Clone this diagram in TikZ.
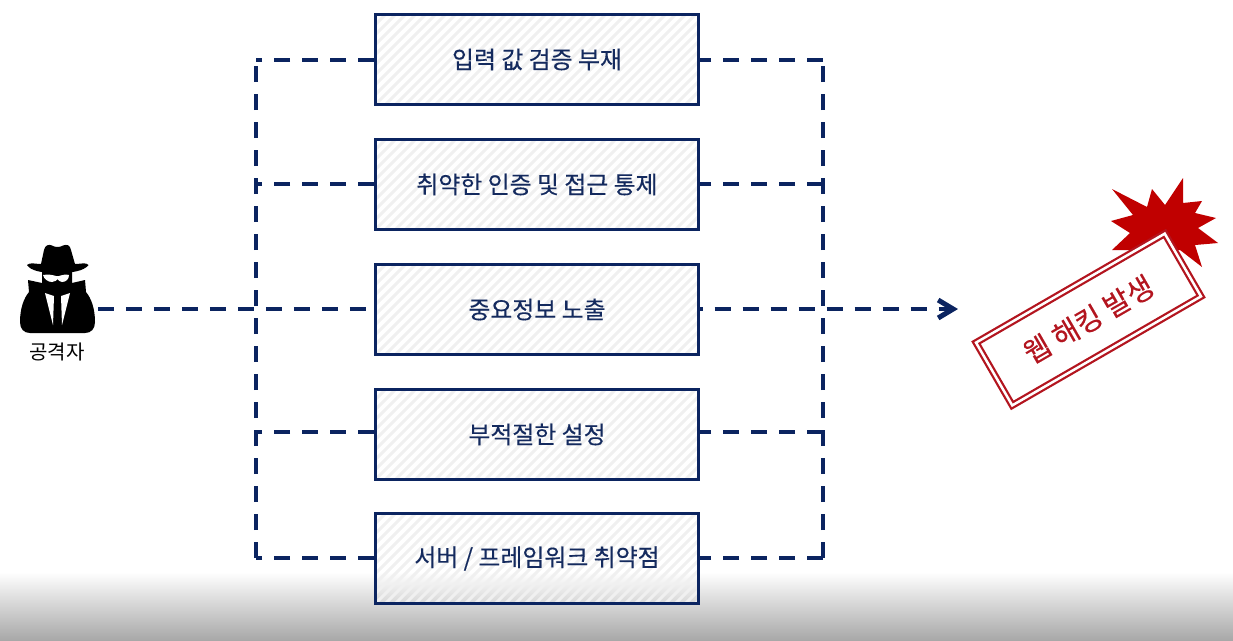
\documentclass[tikz,border=0pt]{standalone}
\usepackage{fontspec}
\setmainfont{Noto Sans CJK KR}
\newfontfamily\krmedium[FakeBold=0.3]{Noto Sans CJK KR}
\usetikzlibrary{arrows.meta,calc}
\definecolor{navyline}{HTML}{0B2460}
\definecolor{navytext}{HTML}{142A5E}
\definecolor{hatchgray}{HTML}{F0F0F0}
\definecolor{burstred}{HTML}{C00000}
\definecolor{stampred}{HTML}{B3151F}

\begin{document}
\begin{tikzpicture}[x=0.02cm,y=-0.02cm,
  link/.style={draw=navyline,line width=0.085cm,dash pattern=on 0.326cm off 0.234cm},
  vuln node/.style={draw=navyline,line width=0.052cm,minimum width=6.47cm,minimum height=1.81cm,
    inner sep=0pt,text=navytext,font=\krmedium\fontsize{13.6}{16}\selectfont,
    path picture={
      \foreach \i in {-100,-90,...,330}
        \draw[hatchgray,line width=0.06cm]
          ($(path picture bounding box.south west)+(\i,0)$) -- ++(100,-100);
    }},
  stamp node/.style={draw=stampred,fill=white,double=white,double distance=0.05cm,line width=0.045cm,
    minimum width=4.36cm,minimum height=1.45cm,rotate=30,text=stampred,
    font=\krmedium\fontsize{16.3}{18}\selectfont}]

\useasboundingbox (0,0) rectangle (1233,640);
\shade[top color=white,bottom color=black!34,draw=none] (0,572) rectangle (1233,640);

% corners of the two buses
\coordinate (L1) at (256,60);
\coordinate (L2) at (256,184);
\coordinate (L4) at (256,432);
\coordinate (L5) at (256,558);
\coordinate (R1) at (823,60);
\coordinate (R2) at (823,184);
\coordinate (R4) at (823,432);
\coordinate (R5) at (823,558);
\coordinate (A1) at (98,309);
\coordinate (T1) at (958,309);

\node[vuln node](B1) at (537,59.5) {입력 값 검증 부재};
\node[vuln node](B2) at (537,184.5) {취약한 인증 및 접근 통제};
\node[vuln node](B3) at (537,309.5) {중요정보 노출};
\node[vuln node](B4) at (537,434.5) {부적절한 설정};
\node[vuln node](B5) at (537,558.5) {서버 / 프레임워크 취약점};

\path[link]
(B1.west |- L1) edge (L1)
(B2.west |- L2) edge (L2)
(B4.west |- L4) edge (L4)
(B5.west |- L5) edge (L5)
(L5) edge (L1)
(R1) edge (B1.east |- R1)
(R2) edge (B2.east |- R2)
(R4) edge (B4.east |- R4)
(R5) edge (B5.east |- R5)
(R5) edge (R1)
(A1) edge (B3.west |- A1);
\draw[link,dash phase=0.266cm,-{Straight Barb[length=0.3cm,width=0.36cm,line width=0.1cm]}]
  (B3.east |- A1) -- (T1);

% attacker
\fill[black] (41,264) -- (44,250) .. controls (45,245) and (49,244) .. (52,245.5) .. controls (55,247.5) and (60,247.5) .. (63,245.5) .. controls (67,244) and (70,245) .. (71,250) -- (75,264)
  .. controls (81,264) and (86,262) .. (88.5,265) .. controls (84,271) and (72,273) .. (57,273) .. controls (42,273) and (31,271) .. (27,265) .. controls (30,262) and (35,264) .. (41,264) -- cycle;
\fill[black] (42,272) -- (72,272) -- (72,283) -- (85,280) -- (86,292) .. controls (91,298) and (95,308) .. (95,322)
  .. controls (95,329) and (91,333) .. (85,333) -- (30,333) .. controls (24,333) and (20,329) .. (20,322)
  .. controls (20,308) and (24,298) .. (29,292) -- (28,280) -- (42,283) -- cycle;
\fill[white] (43,275) .. controls (48,274) and (53,275) .. (56,276) -- (59,276) .. controls (62,275) and (66,274) .. (69,275)
  .. controls (69,279) and (66,282) .. (62,282) .. controls (60,282) and (58,280) .. (57.5,279) .. controls (57,280) and (55,282) .. (52,282) .. controls (48,282) and (44,279) .. (43,275) -- cycle;
\fill[white] (45,293) -- (54,296) -- (53,325) -- cycle;
\fill[white] (70,293) -- (61,296) -- (62,325) -- cycle;
\node[font=\fontsize{11.4}{12}\selectfont,text=black,inner sep=0pt](attacker) at (57,352) {공격자};

% burst behind the stamp
\fill[burstred] (1112,189) -- (1147,207) -- (1152,189) -- (1165,205) -- (1183,178) -- (1183,203) -- (1202,201)
  -- (1195,213) -- (1216,218) -- (1198,228) -- (1218,243) -- (1195,245) -- (1202,267) -- (1180,250) -- (1150,250) -- (1112,250) -- (1130,233) -- (1111,221) -- (1133,215) -- cycle;
\node[stamp node](S1) at (1088.5,319.5) {웹 해킹 발생};
\end{tikzpicture}
\end{document}
